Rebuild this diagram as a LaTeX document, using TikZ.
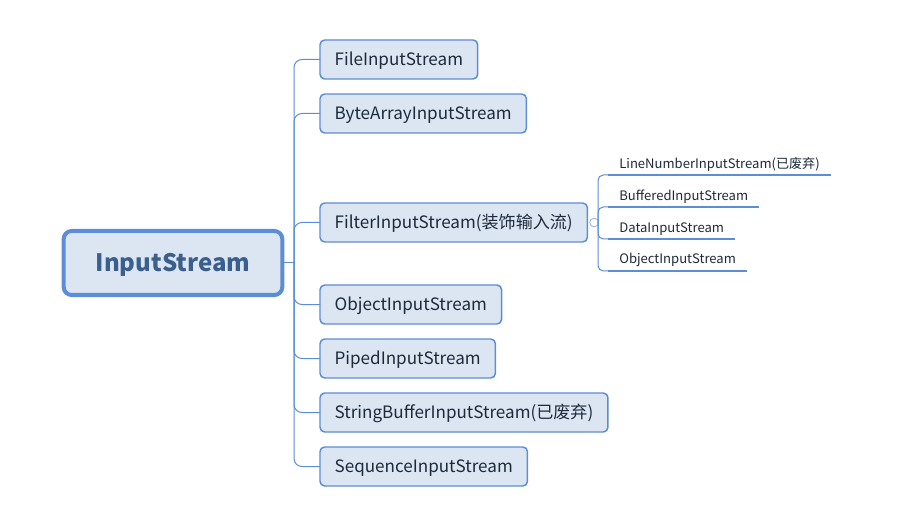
\documentclass[tikz,border=0pt]{standalone}
\usepackage{fontspec}
\setmainfont{Noto Sans CJK SC}
\usetikzlibrary{positioning}
\definecolor{mapblue}{HTML}{5B8ED6}
\definecolor{mapfill}{HTML}{DCE6F2}
\definecolor{roottext}{HTML}{3A5F8F}
\definecolor{leaftext}{HTML}{1E2A3A}
\tikzset{
  rootbox/.style={draw=mapblue, line width=3pt, fill=mapfill, rounded corners=6pt,
                  minimum width=164pt, minimum height=48pt, outer sep=0pt,
                  text height=13pt, text depth=0pt,
                  font=\fontsize{18}{22}\selectfont\bfseries, text=roottext},
  kidbox/.style={draw=mapblue, line width=1.1pt, fill=mapfill, rounded corners=3.5pt,
                 minimum height=29.25pt, inner xsep=11pt, outer sep=0pt, anchor=west,
                 text height=11pt, text depth=2pt,
                 font=\fontsize{12.8}{15}\selectfont, text=leaftext},
  leaf/.style={font=\fontsize{9.8}{11}\selectfont, text=leaftext, inner xsep=8.5pt,
               inner ysep=3pt, outer sep=0pt, anchor=south west},
  link/.style={draw=mapblue, line width=0.75pt, rounded corners=6pt},
  underline/.style={draw=mapblue, line width=2.2pt},
  foldmark/.style={circle, draw=mapblue!70, line width=0.6pt, inner sep=0pt, minimum size=6.5pt},
}
\begin{document}
\begin{tikzpicture}[x=0.75pt, y=-0.75pt]
  \useasboundingbox (0,0) rectangle (911,524);
  % root
  \node[rootbox] (root) at (173,263) {InputStream};
  % first level
  \node[kidbox] (file) at (320,59.5) {FileInputStream};
  \node[kidbox] (bytes) at (320,113.5) {ByteArrayInputStream};
  \node[kidbox] (filter) at (320,222.5) {FilterInputStream(装饰输入流)};
  \node[kidbox] (object) at (320,304.5) {ObjectInputStream};
  \node[kidbox] (piped) at (320,358.5) {PipedInputStream};
  \node[kidbox] (strbuf) at (320,412.5) {StringBufferInputStream(已废弃)};
  \node[kidbox] (seq) at (320,466.5) {SequenceInputStream};
  \coordinate (trunk) at (294,263);
  \draw[link] (root.east) -- (trunk);
  \foreach \kid in {file,bytes,filter,object,piped,strbuf,seq}
    \draw[link] (trunk) |- (\kid.west);
  % filter children
  \node[foldmark, right=1.5pt of filter.east] (fold) {};
  \coordinate (subtrunk) at (598,223);
  \node[leaf] (lineno) at (608,175) {LineNumberInputStream(已废弃)};
  \node[leaf] (buffered) at (608,207) {BufferedInputStream};
  \node[leaf] (data) at (608,239) {DataInputStream};
  \node[leaf] (objin) at (608,271) {ObjectInputStream};
  \draw[link] (fold.east) -- (subtrunk);
  \foreach \leafname in {lineno,buffered,data,objin} {
    \draw[link, rounded corners=4pt] (subtrunk) |- (\leafname.south west);
    \draw[underline] (\leafname.south west) -- (\leafname.south east);
  }
\end{tikzpicture}
\end{document}
